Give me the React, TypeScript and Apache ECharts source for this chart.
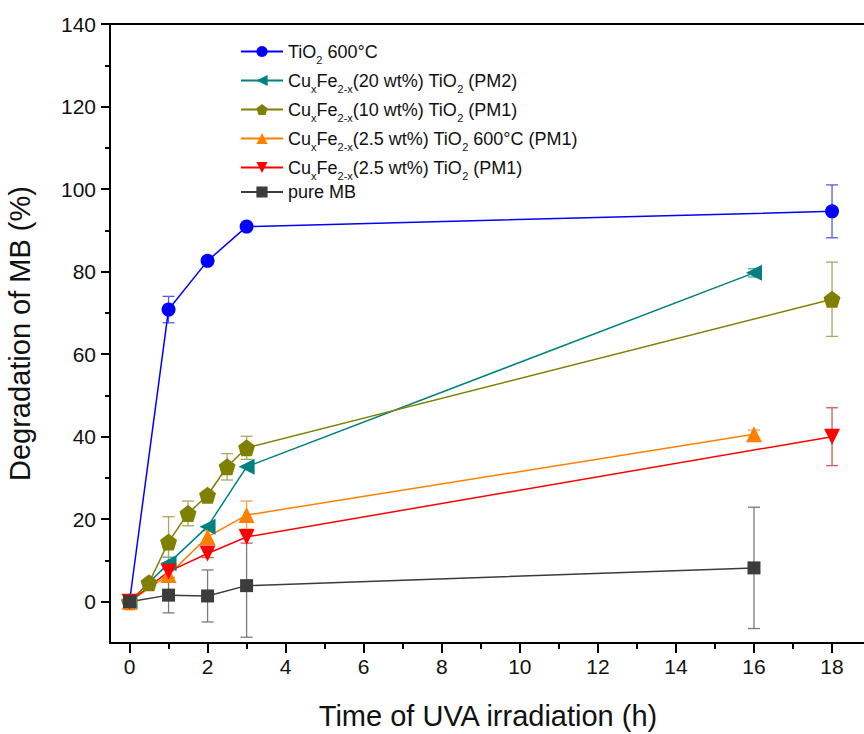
import React, { useEffect, useRef } from "react";
import * as echarts from "echarts";

const FONT = "Liberation Sans, Arial, sans-serif";

const seriesNames = [
  "TiO2 600°C",
  "CuxFe2-x(20 wt%) TiO2 (PM2)",
  "CuxFe2-x(10 wt%) TiO2 (PM1)",
  "CuxFe2-x(2.5 wt%) TiO2 600°C (PM1)",
  "CuxFe2-x(2.5 wt%) TiO2 (PM1)",
  "pure MB",
];

const legendRichLabels = [
  "{n|TiO}{s|2}{n| 600°C}",
  "{n|Cu}{s|x}{n|Fe}{s|2-x}{n|(20 wt%) TiO}{s|2}{n| (PM2)}",
  "{n|Cu}{s|x}{n|Fe}{s|2-x}{n|(10 wt%) TiO}{s|2}{n| (PM1)}",
  "{n|Cu}{s|x}{n|Fe}{s|2-x}{n|(2.5 wt%) TiO}{s|2}{n| 600°C (PM1)}",
  "{n|Cu}{s|x}{n|Fe}{s|2-x}{n|(2.5 wt%) TiO}{s|2}{n| (PM1)}",
  "{n|pure MB}",
];

// time (h)
const tio2X = [0, 1, 2, 3, 18];
const tio2Y = [0, 70.8, 82.6, 90.9, 94.6];
const tio2Err = [0, 3.2, 0, 0, 6.4];

const pm2X = [0, 1, 2, 3, 16];
const pm2Y = [0, 9.3, 18.2, 32.7, 79.7];
const pm2Err = [0, 1.5, 0, 0, 1];

const pm1_10X = [0, 0.5, 1, 1.5, 2, 2.5, 3, 18];
const pm1_10Y = [0, 4.6, 14.5, 21.4, 25.8, 32.7, 37.3, 73.3];
const pm1_10Err = [0, 0, 6.1, 3, 1, 3.2, 2.8, 9];

const pm1_25_600X = [0, 1, 2, 3, 16];
const pm1_25_600Y = [0, 6.5, 15.7, 21.0, 40.6];
const pm1_25_600Err = [0, 1.5, 1.5, 3.4, 1];

const pm1_25X = [0, 1, 2, 3, 18];
const pm1_25Y = [0, 7.3, 11.7, 15.7, 40.0];
const pm1_25Err = [0, 1.5, 1, 1.5, 7];

const mbX = [0, 1, 2, 3, 16];
const mbY = [0, 1.6, 1.4, 3.9, 8.2];
const mbErr = [0, 4.3, 6.3, 12.5, 14.7];

const xMajorTicks = [0, 2, 4, 6, 8, 10, 12, 14, 16, 18];
const xMinorTicks = [1, 3, 5, 7, 9, 11, 13, 15, 17];
const yMajorTicks = [0, 20, 40, 60, 80, 100, 120, 140];
const yMinorTicks = [10, 30, 50, 70, 90, 110, 130];

const colors = ["#0000ff", "#008080", "#808000", "#ff8000", "#ff0000", "#3c3c3c"];
const errColors = ["#5a5ad8", "#50a0a0", "#a8a860", "#f0a050", "#d05858", "#7a7a7a"];

const pentagon =
  "path://M0,-10 L9.511,-3.09 L5.878,8.09 L-5.878,8.09 L-9.511,-3.09 Z";

const symbols = ["circle", "triangle", pentagon, "triangle", "triangle", "rect"];
const symbolRotates = [0, 90, 0, 0, 180, 0];
const symbolSizes = [14, 16, 17, 16, 16, 13];

const allX = [tio2X, pm2X, pm1_10X, pm1_25_600X, pm1_25X, mbX];
const allY = [tio2Y, pm2Y, pm1_10Y, pm1_25_600Y, pm1_25Y, mbY];
const allErr = [tio2Err, pm2Err, pm1_10Err, pm1_25_600Err, pm1_25Err, mbErr];

const X_MIN = -0.5;
const X_MAX = 18.87;
const Y_MIN = -10;
const Y_MAX = 140;

export default function App() {
  const ref = useRef<HTMLDivElement>(null);

  useEffect(() => {
    if (!ref.current) return;
    const chart = echarts.init(ref.current, undefined, { renderer: "svg" });

    const lineSeries: any[] = seriesNames.map((name, i) => ({
      name,
      type: "line",
      xAxisIndex: 0,
      yAxisIndex: 0,
      data: allX[i].map((x, k) => [x, allY[i][k]]),
      symbol: symbols[i],
      symbolSize: symbolSizes[i],
      symbolRotate: symbolRotates[i],
      lineStyle: { color: colors[i], width: 1.5 },
      itemStyle: { color: colors[i] },
      z: 3,
    }));

    const errSeries: any[] = seriesNames.map((name, i) => ({
      name: name + " err",
      type: "custom",
      xAxisIndex: 0,
      yAxisIndex: 0,
      z: 2,
      data: allX[i]
        .map((x, k) => [x, allY[i][k] - allErr[i][k], allY[i][k] + allErr[i][k], allErr[i][k]])
        .filter((d) => d[3] > 0),
      renderItem: (params: any, api: any) => {
        const x = api.value(0);
        const lo = api.coord([x, api.value(1)]);
        const hi = api.coord([x, api.value(2)]);
        const hw = 6;
        const st = { stroke: errColors[i], lineWidth: 1.3 };
        return {
          type: "group",
          children: [
            { type: "line", shape: { x1: lo[0], y1: lo[1], x2: hi[0], y2: hi[1] }, style: st },
            { type: "line", shape: { x1: lo[0] - hw, y1: lo[1], x2: lo[0] + hw, y2: lo[1] }, style: st },
            { type: "line", shape: { x1: hi[0] - hw, y1: hi[1], x2: hi[0] + hw, y2: hi[1] }, style: st },
          ],
        };
      },
    }));

    chart.setOption({
      animation: false,
      backgroundColor: "#ffffff",
      textStyle: { fontFamily: FONT },
      grid: {
        left: 110,
        top: 24,
        width: 756,
        height: 619,
        outerBoundsMode: "none",
        containLabel: false,
        show: true,
        borderColor: "#000",
        borderWidth: 2,
        backgroundColor: "transparent",
      },
      legend: {
        data: seriesNames,
        orient: "vertical",
        left: 240,
        top: 38,
        padding: 0,
        itemWidth: 42,
        itemHeight: 14,
        itemGap: 2,
        formatter: (name: string) => legendRichLabels[seriesNames.indexOf(name)],
        textStyle: {
          color: "#111",
          fontFamily: FONT,
          fontSize: 18,
          rich: {
            n: { fontSize: 18, fontFamily: FONT, color: "#111", lineHeight: 20 },
            s: {
              fontSize: 11,
              fontFamily: FONT,
              color: "#111",
              lineHeight: 11,
              padding: [16, 0, 0, 0],
            },
          },
        },
      },
      xAxis: [
        {
          type: "value",
          min: X_MIN,
          max: X_MAX,
          position: "bottom",
          name: "Time of UVA irradiation (h)",
          nameLocation: "middle",
          nameGap: 58,
          nameTextStyle: { fontSize: 29, color: "#111", fontFamily: FONT },
          axisLine: { show: true, onZero: false, lineStyle: { color: "#000", width: 2 } },
          axisTick: {
            show: true,
            customValues: xMajorTicks,
            length: 10,
            lineStyle: { color: "#000", width: 2 },
          },
          axisLabel: {
            customValues: xMajorTicks,
            fontSize: 21,
            color: "#111",
            margin: 13,
            fontFamily: FONT,
          },
          splitLine: { show: false },
        },
        {
          type: "value",
          min: X_MIN,
          max: X_MAX,
          position: "bottom",
          axisLine: { show: false, onZero: false },
          axisTick: {
            show: true,
            customValues: xMinorTicks,
            length: 6,
            lineStyle: { color: "#000", width: 2 },
          },
          axisLabel: { show: false },
          splitLine: { show: false },
        },
      ],
      yAxis: [
        {
          type: "value",
          min: Y_MIN,
          max: Y_MAX,
          position: "left",
          name: "Degradation of MB (%)",
          nameLocation: "middle",
          nameGap: 76,
          nameTextStyle: { fontSize: 29, color: "#111", fontFamily: FONT },
          axisLine: { show: true, onZero: false, lineStyle: { color: "#000", width: 2 } },
          axisTick: {
            show: true,
            customValues: yMajorTicks,
            length: 9,
            lineStyle: { color: "#000", width: 2 },
          },
          axisLabel: {
            customValues: yMajorTicks,
            fontSize: 21,
            color: "#111",
            margin: 14,
            fontFamily: FONT,
          },
          splitLine: { show: false },
        },
        {
          type: "value",
          min: Y_MIN,
          max: Y_MAX,
          position: "left",
          axisLine: { show: false, onZero: false },
          axisTick: {
            show: true,
            customValues: yMinorTicks,
            length: 5,
            lineStyle: { color: "#000", width: 2 },
          },
          axisLabel: { show: false },
          splitLine: { show: false },
        },
      ],
      series: [...errSeries, ...lineSeries],
    });

    return () => chart.dispose();
  }, []);

  return (
    <div
      ref={ref}
      style={{ position: "fixed", left: 0, top: 0, width: 864, height: 734, background: "#fff" }}
    />
  );
}
